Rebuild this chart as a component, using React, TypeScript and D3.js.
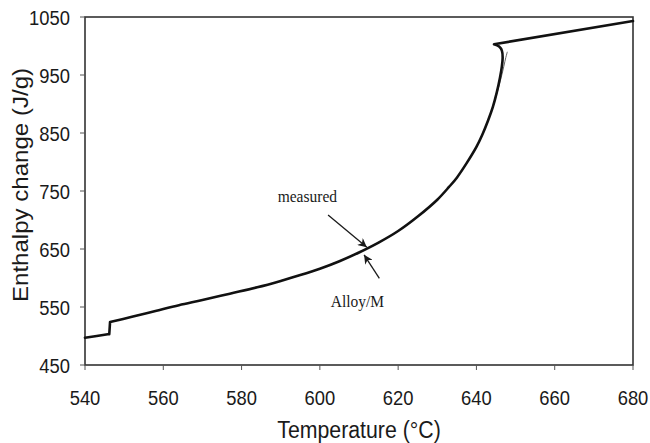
import { useEffect, useRef } from 'react';
import * as d3 from 'd3';

// measured enthalpy curve (temperature °C, enthalpy J/g)
const measuredT = [540, 543, 545.8, 546.2, 546.4, 552, 558, 564, 570, 577, 584, 590, 595, 600, 605, 610, 615, 620, 625, 630, 633, 635, 637.5, 640, 641.5, 643, 644.2, 645.2, 646, 646.5, 646.7, 646.5, 645.8, 644.5, 680];
const measuredH = [497, 500, 503, 503, 524, 533, 543, 553, 562, 573, 584, 595, 605, 616, 629, 644, 661, 681, 706, 735, 757, 773, 798, 826, 847, 872, 895, 920, 945, 965, 980, 992, 999, 1003, 1043];

// calculated curve (Alloy/M), splits from the measured one near the top
const alloyT = [600, 605, 610, 615, 620, 625, 630, 633, 635, 637.5, 640, 641.5, 643, 644.2, 645.3, 646.3, 647, 647.5, 647.9];
const alloyH = [616, 629, 644, 661, 681, 706, 735, 757, 773, 798, 826, 847, 872, 895, 920, 945, 965, 980, 990];

const xTicks = [540, 560, 580, 600, 620, 640, 660, 680];
const yTicks = [450, 550, 650, 750, 850, 950, 1050];

// annotation labels: text position and arrow from/to, in data units
const labels = ['measured', 'Alloy/M'];
const labelAt = [[596.8, 731], [609.6, 550]];
const arrowFrom = [[602.1, 708.6], [615.2, 599.5]];
const arrowTo = [[612.0, 653], [611.3, 640]];

const W = 650;
const H = 443;
const SY = 1.13; // source figure is a bit stretched vertically

export default function App() {
  const ref = useRef<SVGSVGElement | null>(null);

  useEffect(() => {
    const svg = d3.select(ref.current);
    svg.selectAll('*').remove();

    const x = d3.scaleLinear().domain([540, 680]).range([85, 633]);
    const y = d3.scaleLinear().domain([450, 1050]).range([365, 17]);
    const ink = '#1a1a1a';
    const sans = 'Liberation Sans, Arial, sans-serif';
    const serif = 'Liberation Serif, Times New Roman, serif';

    svg
      .append('defs')
      .append('marker')
      .attr('id', 'head')
      .attr('viewBox', '0 0 10 10')
      .attr('refX', 10)
      .attr('refY', 5)
      .attr('markerWidth', 9)
      .attr('markerHeight', 9)
      .attr('markerUnits', 'userSpaceOnUse')
      .attr('orient', 'auto')
      .append('path')
      .attr('d', 'M0,0 L10,5 L0,10 L3,5 Z')
      .attr('fill', ink);

    // frame
    svg
      .append('rect')
      .attr('x', x(540))
      .attr('y', y(1050))
      .attr('width', x(680) - x(540))
      .attr('height', y(450) - y(1050))
      .attr('fill', 'none')
      .attr('stroke', '#333')
      .attr('stroke-width', 1.6);

    // x ticks + labels
    const gx = svg.append('g');
    gx.selectAll('line')
      .data(xTicks)
      .join('line')
      .attr('x1', (d) => x(d))
      .attr('x2', (d) => x(d))
      .attr('y1', y(450))
      .attr('y2', y(450) + 5)
      .attr('stroke', '#555');
    gx.selectAll('text')
      .data(xTicks)
      .join('text')
      .attr('transform', (d) => `translate(${x(d)},${y(450) + 40}) scale(1,${SY})`)
      .attr('text-anchor', 'middle')
      .attr('font-family', sans)
      .attr('font-size', 18.4)
      .attr('fill', ink)
      .text((d) => d);

    // y ticks + labels
    const gy = svg.append('g');
    gy.selectAll('line')
      .data(yTicks)
      .join('line')
      .attr('x1', x(540) - 5)
      .attr('x2', x(540))
      .attr('y1', (d) => y(d))
      .attr('y2', (d) => y(d))
      .attr('stroke', '#555');
    gy.selectAll('text')
      .data(yTicks)
      .join('text')
      .attr('transform', (d) => `translate(${x(540) - 15},${y(d) + 7.5}) scale(1,${SY})`)
      .attr('text-anchor', 'end')
      .attr('font-family', sans)
      .attr('font-size', 18.4)
      .attr('fill', ink)
      .text((d) => d);

    // axis titles
    svg
      .append('text')
      .attr('transform', `translate(${(x(540) + x(680)) / 2},${438}) scale(1,${SY})`)
      .attr('text-anchor', 'middle')
      .attr('font-family', sans)
      .attr('font-size', 21.3)
      .attr('fill', ink)
      .text('Temperature (°C)');
    svg
      .append('text')
      .attr('transform', `translate(28,${(y(450) + y(1050)) / 2 - 6}) scale(1,${SY}) rotate(-90)`)
      .attr('text-anchor', 'middle')
      .attr('font-family', sans)
      .attr('font-size', 21.3)
      .attr('fill', ink)
      .text('Enthalpy change (J/g)');

    const toPts = (ts: number[], hs: number[]) =>
      ts.map((t, i) => [t, hs[i]] as [number, number]);
    const straight = d3
      .line<[number, number]>()
      .x((d) => x(d[0]))
      .y((d) => y(d[1]));
    const smooth = d3
      .line<[number, number]>()
      .x((d) => x(d[0]))
      .y((d) => y(d[1]))
      .curve(d3.curveCatmullRom.alpha(0.5));

    const meas = toPts(measuredT, measuredH);
    const n = meas.length;
    // solid stretch + step, smooth melting curve, straight liquid line
    const measD =
      (straight(meas.slice(0, 5)) ?? '') +
      (smooth(meas.slice(4, n - 1)) ?? '') +
      (straight(meas.slice(n - 2)) ?? '');

    svg
      .append('path')
      .attr('d', smooth(toPts(alloyT, alloyH)))
      .attr('fill', 'none')
      .attr('stroke', '#666')
      .attr('stroke-width', 1);

    svg
      .append('path')
      .attr('d', measD)
      .attr('fill', 'none')
      .attr('stroke', '#111')
      .attr('stroke-width', 2.6)
      .attr('stroke-linejoin', 'round')
      .attr('stroke-linecap', 'round');

    // annotations
    labels.forEach((lab, i) => {
      svg
        .append('text')
        .attr('transform', `translate(${x(labelAt[i][0])},${y(labelAt[i][1])}) scale(1,${SY})`)
        .attr('text-anchor', 'middle')
        .attr('font-family', serif)
        .attr('font-size', 15.5)
        .attr('fill', ink)
        .text(lab);
      svg
        .append('line')
        .attr('x1', x(arrowFrom[i][0]))
        .attr('y1', y(arrowFrom[i][1]))
        .attr('x2', x(arrowTo[i][0]))
        .attr('y2', y(arrowTo[i][1]))
        .attr('stroke', ink)
        .attr('stroke-width', 1.3)
        .attr('marker-end', 'url(#head)');
    });
  }, []);

  return (
    <div style={{ position: 'absolute', left: 0, top: 0, background: '#fff' }}>
      <svg ref={ref} width={W} height={H} style={{ display: 'block' }} />
    </div>
  );
}
